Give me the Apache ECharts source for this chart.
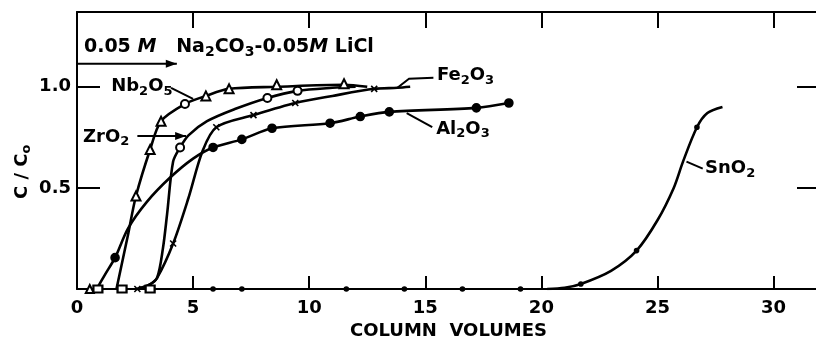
<!DOCTYPE html>
<html>
<head>
<meta charset="utf-8">
<script src="https://cdn.jsdelivr.net/npm/echarts@6/dist/echarts.min.js"></script>
<style>
  html, body { margin: 0; padding: 0; background: #fff; }
  #main { width: 816px; height: 342px; }
</style>
</head>
<body>
<div id="main"></div>
<script>
var chart = echarts.init(document.getElementById('main'));

// curves [column volumes, C/C0]
var nb2o5Curve = [[1.7, 0], [2.2, 0.27], [2.54, 0.46], [3.15, 0.69], [3.62, 0.83], [4.65, 0.915], [5.55, 0.955], [6.55, 0.99], [8.6, 1.0], [11.5, 1.01], [12.5, 1.0]];
var zro2Curve = [[2.6, 0], [3.1, 0.02], [3.45, 0.055], [3.7, 0.2], [3.88, 0.37], [4.14, 0.63], [4.44, 0.70], [4.8, 0.76], [5.6, 0.83], [6.8, 0.89], [8.2, 0.945], [9.5, 0.98], [11, 0.995], [12, 1.0]];
var fe2o3Curve = [[2.6, 0], [3.1, 0.02], [3.45, 0.055], [4.14, 0.225], [4.8, 0.45], [5.4, 0.68], [6.0, 0.80], [7.6, 0.86], [9.4, 0.92], [11, 0.955], [12.8, 0.99], [13.8, 0.995], [14.35, 1.0]];
var al2o3Curve = [[0.85, 0], [1.2, 0.07], [1.64, 0.155], [2.2, 0.30], [3, 0.43], [4, 0.55], [5, 0.645], [5.86, 0.70], [7.1, 0.74], [8.4, 0.795], [10.9, 0.82], [12.2, 0.853], [13.45, 0.876], [17.2, 0.896], [18.6, 0.92]];
var sno2Curve = [[20.25, 0], [21.0, 0.006], [21.7, 0.025], [23, 0.09], [24.1, 0.19], [25, 0.34], [25.7, 0.50], [26.1, 0.63], [26.7, 0.80], [27.15, 0.87], [27.8, 0.90]];

// plotted points
var nb2o5Points = [[2.54, 0.46], [3.15, 0.69], [3.62, 0.83], [5.55, 0.955], [6.55, 0.99], [8.6, 1.01], [11.5, 1.015]];
var zro2Points = [[4.44, 0.70], [4.65, 0.915], [8.2, 0.945], [9.5, 0.98]];
var fe2o3Points = [[4.14, 0.225], [6.0, 0.80], [7.6, 0.86], [9.4, 0.92], [12.8, 0.99]];
var al2o3Points = [[1.64, 0.155], [5.86, 0.70], [7.1, 0.74], [8.4, 0.795], [10.9, 0.82], [12.2, 0.853], [13.45, 0.876], [17.2, 0.896], [18.6, 0.92]];
var sno2Points = [[21.7, 0.025], [24.1, 0.19], [26.7, 0.80]];
var baseTriangles = [[0.55, 0]];
var baseSquares = [[0.9, 0], [1.94, 0], [3.15, 0]];
var baseCrosses = [[2.6, 0]];
var baseDots = [[5.86, 0], [7.1, 0], [11.6, 0], [14.1, 0], [16.6, 0], [19.1, 0]];

var xTicks = [0, 5, 10, 15, 20, 25, 30];
var yTicks = [0.5, 1.0];

var FONT = 'DejaVu Sans';
var crossSymbol = 'path://M0,0L10,10M10,0L0,10';

function curve(data) {
    return {
        type: 'line', data: data, smooth: 0.3,
        symbol: 'none', lineStyle: { color: '#000', width: 2.6 }, z: 2, silent: true
    };
}
function marks(data, symbol, size) {
    return {
        type: 'scatter', data: data, symbol: symbol, symbolSize: size, z: 5,
        itemStyle: { color: '#000', borderColor: '#000', borderWidth: 1.6, opacity: 1 }
    };
}

var axisLine = { onZero: false, lineStyle: { color: '#000', width: 2 } };

var option = {
    animation: false,
    backgroundColor: '#fff',
    grid: { left: 77, right: -4, top: 12, bottom: 53, outerBoundsMode: 'none' },
    xAxis: [{
        type: 'value', min: 0, max: 32, interval: 5, position: 'bottom',
        axisLine: axisLine,
        axisTick: { inside: true, length: 13, lineStyle: { color: '#000', width: 2 } },
        axisLabel: {
            margin: 10, color: '#000', fontFamily: FONT, fontWeight: 'bold', fontSize: 18,
            formatter: function (v) { return xTicks.indexOf(v) >= 0 ? String(v) : ''; }
        },
        splitLine: { show: false },
        name: 'COLUMN  VOLUMES', nameLocation: 'middle', nameGap: 29,
        nameTextStyle: { color: '#000', fontFamily: FONT, fontWeight: 'bold', fontSize: 18 }
    }, {
        type: 'value', min: 0, max: 32, interval: 5, position: 'top',
        axisLine: axisLine,
        axisTick: { inside: true, length: 16, lineStyle: { color: '#000', width: 2 } },
        axisLabel: { show: false }, splitLine: { show: false }
    }],
    yAxis: [{
        type: 'value', min: 0, max: 1.37, interval: 0.5, position: 'left',
        axisLine: { show: true, onZero: false, lineStyle: { color: '#000', width: 2 } },
        axisTick: { show: true, inside: true, length: 23, lineStyle: { color: '#000', width: 2 } },
        axisLabel: {
            margin: 6, color: '#000', fontFamily: FONT, fontWeight: 'bold', fontSize: 18,
            formatter: function (v) { return yTicks.indexOf(v) >= 0 ? v.toFixed(1) : ''; }
        },
        splitLine: { show: false }
    }, {
        type: 'value', min: 0, max: 1.37, interval: 0.5, position: 'right',
        axisLine: { show: true, onZero: false, lineStyle: { color: '#000', width: 2 } },
        axisTick: { show: true, inside: true, length: 23, lineStyle: { color: '#000', width: 2 } },
        axisLabel: { show: false }, splitLine: { show: false }
    }],
    series: [
        curve(nb2o5Curve), curve(zro2Curve), curve(fe2o3Curve), curve(al2o3Curve), curve(sno2Curve),
        marks(nb2o5Points, 'emptyTriangle', 9),
        marks(zro2Points, 'emptyCircle', 8),
        marks(fe2o3Points, crossSymbol, 6),
        marks(al2o3Points, 'circle', 8),
        marks(sno2Points, 'circle', 4),
        marks(baseTriangles, 'emptyTriangle', 8),
        marks(baseSquares, 'emptyRect', [9, 7]),
        marks(baseCrosses, crossSymbol, 6),
        marks(baseDots, 'circle', 4)
    ]
};
chart.setOption(option);

// annotations placed in data coordinates
function px(p) { return chart.convertToPixel({ xAxisIndex: 0, yAxisIndex: 0 }, p); }
var rich = {
    m: { fontFamily: FONT, fontWeight: 'bold', fontSize: 18, lineHeight: 20, verticalAlign: 'top', fill: '#000' },
    i: { fontFamily: FONT, fontWeight: 'bold', fontStyle: 'italic', fontSize: 18, lineHeight: 20, verticalAlign: 'top', fill: '#000' },
    s: { fontFamily: FONT, fontWeight: 'bold', fontSize: 13, lineHeight: 14, padding: [11, 0, 0, 0], verticalAlign: 'bottom', fill: '#000' },
    em: { fontFamily: FONT, fontWeight: 'bold', fontSize: 19, lineHeight: 21, verticalAlign: 'top', fill: '#000' },
    ei: { fontFamily: FONT, fontWeight: 'bold', fontStyle: 'italic', fontSize: 19, lineHeight: 21, verticalAlign: 'top', fill: '#000' },
    es: { fontFamily: FONT, fontWeight: 'bold', fontSize: 14, lineHeight: 15, padding: [11, 0, 0, 0], verticalAlign: 'bottom', fill: '#000' }
};
function label(text, p) {
    var q = px(p);
    return { type: 'text', x: q[0], y: q[1], style: { text: text, rich: rich, verticalAlign: 'middle', align: 'left' }, z: 10 };
}
function leader(points) {
    return { type: 'polyline', shape: { points: points.map(px) }, style: { stroke: '#000', lineWidth: 2, fill: null }, z: 10 };
}
function arrowHead(p) {
    var q = px(p);
    return { type: 'polygon', shape: { points: [[q[0], q[1]], [q[0] - 11, q[1] - 4], [q[0] - 11, q[1] + 4]] }, style: { fill: '#000' }, z: 10 };
}

var labelNb = [1.47, 0.995], leaderNb = [[4.05, 0.995], [5.0, 0.94]];
var labelZr = [0.26, 0.745], arrowZr = [[2.6, 0.757], [4.7, 0.757]];
var labelFe = [15.5, 1.05], leaderFe = [[13.8, 0.995], [14.3, 1.04], [15.35, 1.045]];
var labelAl = [15.47, 0.785], leaderAl = [[14.2, 0.87], [15.3, 0.80]];
var labelSn = [27.05, 0.59], leaderSn = [[26.25, 0.63], [26.95, 0.595]];
var labelEluent = [0.3, 1.19], arrowEluent = [[0, 1.114], [4.3, 1.114]];

var yName = px([0, 0.58]);
chart.setOption({
    graphic: [
        label('{m|Nb}{s|2}{m|O}{s|5}', labelNb), leader(leaderNb),
        label('{m|ZrO}{s|2}', labelZr), leader(arrowZr), arrowHead(arrowZr[1]),
        label('{m|Fe}{s|2}{m|O}{s|3}', labelFe), leader(leaderFe),
        label('{m|Al}{s|2}{m|O}{s|3}', labelAl), leader(leaderAl),
        label('{m|SnO}{s|2}', labelSn), leader(leaderSn),
        label('{em|0.05 }{ei|M}{em|   Na}{es|2}{em|CO}{es|3}{em|-0.05}{ei|M}{em| LiCl}', labelEluent),
        leader(arrowEluent), arrowHead(arrowEluent[1]),
        {
            type: 'text', x: 23, y: yName[1], rotation: Math.PI / 2,
            style: { text: '{m|C / C}{s|o}', rich: rich, align: 'center', verticalAlign: 'middle' }, z: 10
        }
    ]
});
</script>
</body>
</html>
